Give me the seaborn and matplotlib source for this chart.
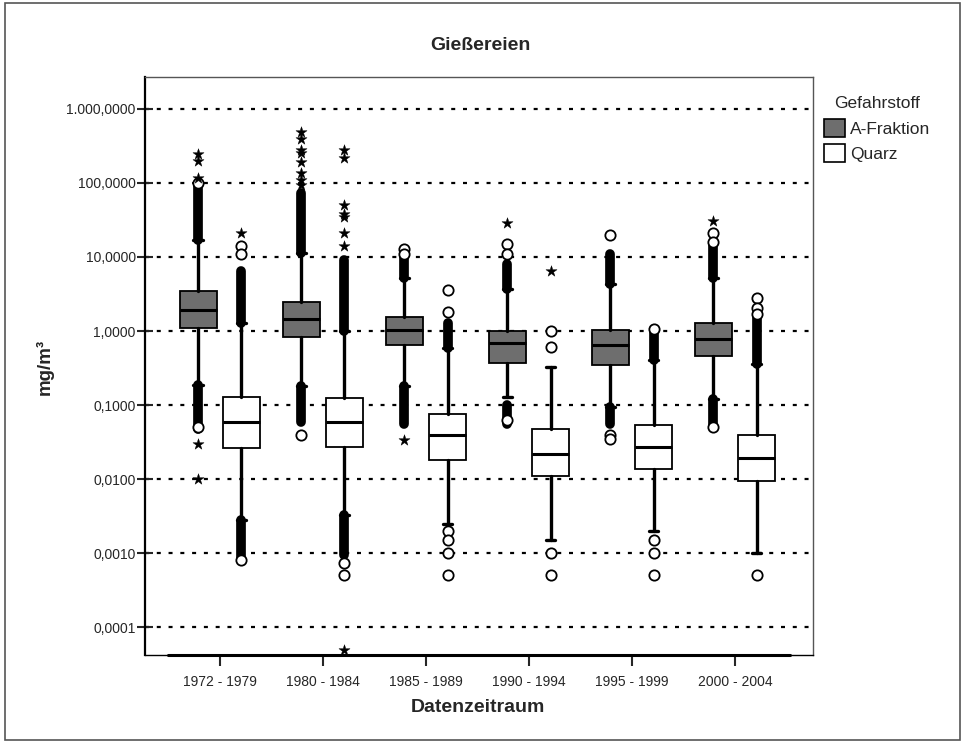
import pandas as pd
import seaborn as sns
import matplotlib.pyplot as plt
from matplotlib.patches import Patch, Rectangle
from matplotlib.ticker import FixedLocator, NullLocator

# periods on the x axis and the two substances
periods = ["1972 - 1979", "1980 - 1984", "1985 - 1989", "1990 - 1994", "1995 - 1999", "2000 - 2004"]
substances = ["A-Fraktion", "Quarz"]

# box summaries (mg/m3)
a_whislo = [0.186, 0.18, 0.18, 0.13, 0.095, 0.12]
a_q1 = [1.1, 0.83, 0.65, 0.37, 0.345, 0.46]
a_med = [1.93, 1.45, 1.03, 0.69, 0.65, 0.78]
a_q3 = [3.49, 2.47, 1.55, 1.0, 1.03, 1.28]
a_whishi = [17, 11.4, 5.2, 3.7, 4.3, 5.2]

q_whislo = [0.0028, 0.0033, 0.0025, 0.0015, 0.002, 0.001]
q_q1 = [0.026, 0.0275, 0.018, 0.011, 0.0139, 0.0093]
q_med = [0.06, 0.06, 0.04, 0.022, 0.027, 0.019]
q_q3 = [0.127, 0.123, 0.075, 0.047, 0.053, 0.04]
q_whishi = [1.28, 1.0, 0.59, 0.33, 0.4, 0.36]

# ranges where outliers are so dense they merge into a bar
dense_period = [0, 0, 1, 1, 2, 2, 3, 3, 4, 4, 5, 5, 0, 0, 1, 1, 2, 4, 5]
dense_subst = [0, 0, 0, 0, 0, 0, 0, 0, 0, 0, 0, 0, 1, 1, 1, 1, 1, 1, 1]
dense_lo = [17, 0.048, 11.4, 0.06, 5.2, 0.055, 3.7, 0.055, 4.3, 0.055, 5.2, 0.05, 1.28, 0.00081, 1.0, 0.00095, 0.59, 0.4, 0.36]
dense_hi = [100, 0.186, 72, 0.18, 11, 0.18, 8, 0.1, 11, 0.095, 15, 0.12, 6.5, 0.0028, 9, 0.0033, 1.3, 1.06, 1.5]

# single outliers (circles)
circ_period = [0, 0, 1, 2, 2, 3, 3, 3, 4, 4, 4, 5, 5, 5,
               0, 0, 0, 1, 1, 2, 2, 2, 2, 2, 2, 3, 3, 3, 3, 4, 4, 4, 4, 5, 5, 5, 5]
circ_subst = [0] * 14 + [1] * 23
circ_val = [100, 0.05, 0.04, 13, 11, 15, 11, 0.062, 20, 0.04, 0.035, 21, 16, 0.05,
            14, 11, 0.00081, 0.00073, 0.0005, 3.6, 1.8, 0.002, 0.0015, 0.001, 0.0005,
            1.0, 0.6, 0.001, 0.0005, 1.06, 0.0015, 0.001, 0.0005, 2.8, 2.05, 1.7, 0.0005]

# extreme values (stars)
star_period = [0, 0, 0, 0, 0, 1, 1, 1, 1, 1, 1, 1, 1, 2, 3, 5,
               0, 1, 1, 1, 1, 1, 1, 1, 1, 3]
star_subst = [0] * 16 + [1] * 10
star_val = [245, 195, 115, 0.03, 0.01, 485, 390, 275, 250, 190, 135, 110, 93, 0.034, 29, 31,
            21, 275, 220, 50, 38, 35, 21, 14, 0.00005, 6.5]

offset = 0.21
box_fill = ["#6e6e6e", "white"]

sns.set_style("white")
plt.rcParams['font.family'] = ['Liberation Sans', 'DejaVu Sans']

fig = plt.figure(figsize=(9.65, 7.47), dpi=100)
ax = fig.add_axes([0.150, 0.123, 0.6925, 0.774])
ax.set_yscale("log")

summaries = [(a_whislo, a_q1, a_med, a_q3, a_whishi), (q_whislo, q_q1, q_med, q_q3, q_whishi)]
for s, (lo, q1, med, q3, hi) in enumerate(summaries):
    stats = []
    for i in range(len(periods)):
        stats.append(dict(whislo=lo[i], q1=q1[i], med=med[i], q3=q3[i], whishi=hi[i]))
    pos = [i + (2 * s - 1) * offset for i in range(len(periods))]
    ax.bxp(stats, positions=pos, widths=0.36, showfliers=False, patch_artist=True,
           boxprops=dict(facecolor=box_fill[s], edgecolor="black", linewidth=1.3),
           medianprops=dict(color="black", linewidth=2.2),
           whiskerprops=dict(color="black", linewidth=2.4),
           capprops=dict(color="black", linewidth=2.4),
           capwidths=0.09, manage_ticks=False)

# dense outlier bands
for p, s, lo, hi in zip(dense_period, dense_subst, dense_lo, dense_hi):
    x = p + (2 * s - 1) * offset
    ax.plot([x, x], [lo, hi], color="black", linewidth=7, solid_capstyle="round", zorder=3)

circles = pd.DataFrame({"x": [p + (2 * s - 1) * offset for p, s in zip(circ_period, circ_subst)],
                        "y": circ_val})
stars = pd.DataFrame({"x": [p + (2 * s - 1) * offset for p, s in zip(star_period, star_subst)],
                      "y": star_val})
sns.scatterplot(data=circles, x="x", y="y", ax=ax, marker="o", s=55,
                facecolor="white", edgecolor="black", linewidth=1.3, zorder=4)
sns.scatterplot(data=stars, x="x", y="y", ax=ax, marker="*", s=70,
                color="black", edgecolor="black", linewidth=0.3, zorder=4)

# axes, ticks and grid
ax.set_xlim(-0.728, 5.757)
ax.set_ylim(4.2e-5, 2700)
ax.set_xticks(range(len(periods)))
ax.set_xticklabels(periods, fontsize=10)
yticks = [1e3, 1e2, 1e1, 1, 0.1, 0.01, 0.001, 0.0001]
ylabels = ["1.000,0000", "100,0000", "10,0000", "1,0000", "0,1000", "0,0100", "0,0010", "0,0001"]
ax.yaxis.set_major_locator(FixedLocator(yticks))
ax.yaxis.set_minor_locator(NullLocator())
ax.set_yticklabels(ylabels, fontsize=10)
ax.set_xlabel("")
ax.set_ylabel("")
ax.tick_params(axis="y", left=True, length=11, width=1.5, direction="inout", pad=1)
ax.tick_params(axis="x", bottom=True, length=8, width=1.5, direction="out", pad=6)
ax.set_axisbelow(True)
ax.yaxis.grid(True, linestyle=(0, (1.8, 3.5)), color="black", linewidth=1.6)
ax.xaxis.grid(False)

ax.spines["left"].set_color("black")
ax.spines["left"].set_linewidth(1.6)
ax.spines["bottom"].set_color("black")
ax.spines["bottom"].set_linewidth(1.0)
for side in ["top", "right"]:
    ax.spines[side].set_color("#555555")
    ax.spines[side].set_linewidth(1.0)
ax.plot([-0.5, 5.53], [0, 0], transform=ax.get_xaxis_transform(), color="black",
        linewidth=2.2, clip_on=False, zorder=5)

fig.text(480 / 965, 1 - 46 / 747, "Gießereien", ha="center", va="center", fontsize=14, fontweight="bold")
fig.text(478 / 965, 1 - 707 / 747, "Datenzeitraum", ha="center", va="center", fontsize=14, fontweight="bold")
fig.text(45 / 965, 1 - 367 / 747, "mg/m³", ha="center", va="center", rotation=90, fontsize=13.5, fontweight="bold")

handles = [Patch(facecolor=box_fill[0], edgecolor="black", linewidth=1.2),
           Patch(facecolor=box_fill[1], edgecolor="black", linewidth=1.2)]
fig.legend(handles, substances, title="Gefahrstoff", loc="upper left",
           bbox_to_anchor=(824 / 965, 1 - 96 / 747), frameon=False, fontsize=12.5,
           title_fontsize=12.5, handlelength=1.2, handleheight=1.2, handletextpad=0.3,
           labelspacing=0.45, borderpad=0, borderaxespad=0)

fig.patches.append(Rectangle((5 / 965, 7 / 747), 955 / 965, 737 / 747, transform=fig.transFigure,
                             fill=False, edgecolor="#555555", linewidth=1.2))

fig.savefig("out.png", dpi=100)
